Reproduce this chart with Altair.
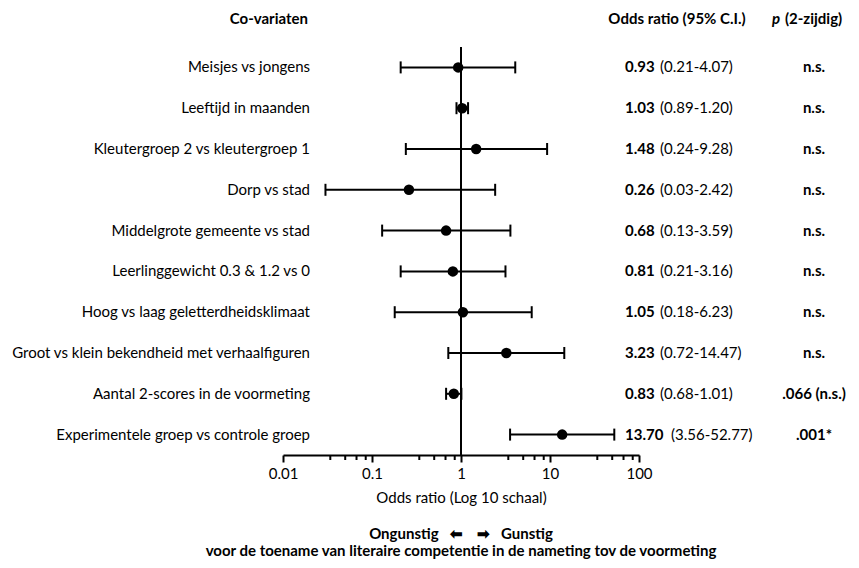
import altair as alt
import pandas as pd

covariates = [
    "Meisjes vs jongens",
    "Leeftijd in maanden",
    "Kleutergroep 2 vs kleutergroep 1",
    "Dorp vs stad",
    "Middelgrote gemeente vs stad",
    "Leerlinggewicht 0.3 & 1.2 vs 0",
    "Hoog vs laag geletterdheidsklimaat",
    "Groot vs klein bekendheid met verhaalfiguren",
    "Aantal 2-scores in de voormeting",
    "Experimentele groep vs controle groep",
]
odds = [0.93, 1.03, 1.48, 0.26, 0.68, 0.81, 1.05, 3.23, 0.83, 13.70]
ci_low = [0.21, 0.89, 0.24, 0.03, 0.13, 0.21, 0.18, 0.72, 0.68, 3.56]
ci_high = [4.07, 1.20, 9.28, 2.42, 3.59, 3.16, 6.23, 14.47, 1.01, 52.77]
p_labels = ["n.s.", "n.s.", "n.s.", "n.s.", "n.s.", "n.s.", "n.s.", "n.s.", ".066 (n.s.)", ".001*"]

major_ticks = [0.01, 0.1, 1, 10, 100]
minor_ticks = [0.034, 0.05, 0.067, 0.085, 0.34, 0.5, 0.67, 0.85,
               3.4, 5, 6.7, 8.5, 34, 50, 67, 85]

F = "Lato, sans-serif"
FS = 15
NB = "\u00a0"

df = pd.DataFrame({
    "row": list(range(len(covariates))),
    "name": covariates,
    "or": odds,
    "lo": ci_low,
    "hi": ci_high,
    "or_txt": [f"{v:.2f}" for v in odds],
    "ci_txt": [f"({a:.2f}-{b:.2f})" for a, b in zip(ci_low, ci_high)],
    "p": p_labels,
})
minor_df = pd.DataFrame({"m": minor_ticks})

xs = alt.Scale(type="log", domain=[0.01, 100], nice=False)
y = alt.Y("row:Q", scale=alt.Scale(domain=[-0.5, 9.5], reverse=True), axis=None)

main_axis = alt.Axis(
    values=major_ticks, format="~g", orient="bottom",
    title="Odds ratio (Log 10 schaal)", grid=False,
    tickSize=7, tickWidth=2, tickColor="black",
    domainWidth=2, domainColor="black",
    labelColor="black", labelFont=F, labelFontSize=FS, labelPadding=4, labelFlush=False,
    titleFont=F, titleFontSize=FS, titleFontWeight="normal", titleColor="black", titlePadding=9,
)


def X(field):
    return alt.X(field, scale=xs, axis=main_axis)


base = alt.Chart(df)

ci_line = base.mark_rule(strokeWidth=2, color="black").encode(x=X("lo:Q"), x2="hi:Q", y=y)
cap_lo = base.mark_tick(orient="vertical", thickness=2, size=12, color="black", opacity=1).encode(
    x=X("lo:Q"), y=y)
cap_hi = base.mark_tick(orient="vertical", thickness=2, size=12, color="black", opacity=1).encode(
    x=X("hi:Q"), y=y)
points = base.mark_circle(size=110, color="black", opacity=1).encode(x=X("or:Q"), y=y)

ref = alt.Chart(pd.DataFrame({"v": [1]})).mark_rule(strokeWidth=2, color="black").encode(x=X("v:Q"))

minor = alt.Chart(minor_df).mark_rule(strokeWidth=2, color="black").encode(
    x=X("m:Q"), y=alt.value(408), y2=alt.value(413))

labels = base.mark_text(align="right", baseline="middle", font=F, fontSize=FS, color="black").encode(
    x=alt.value(27), y=y, text="name:N")
or_short = base.transform_filter("length(datum.or_txt) <= 4")
or_long = base.transform_filter("length(datum.or_txt) > 4")
or_txt = base.mark_text(align="left", baseline="middle", font=F, fontSize=FS, fontWeight="bold",
                        color="black").encode(x=alt.value(342), y=y, text="or_txt:N")
ci_txt_s = or_short.mark_text(align="left", baseline="middle", font=F, fontSize=FS, color="black").encode(
    x=alt.value(377), y=y, text="ci_txt:N")
ci_txt_l = or_long.mark_text(align="left", baseline="middle", font=F, fontSize=FS, color="black").encode(
    x=alt.value(388), y=y, text="ci_txt:N")
p_txt = base.mark_text(align="center", baseline="middle", font=F, fontSize=FS, fontWeight="bold",
                       color="black").encode(x=alt.value(531), y=y, text="p:N")


def header(txt, xpos, align, style="normal"):
    return alt.Chart(pd.DataFrame({"t": [txt]})).mark_text(
        align=align, baseline="middle", font=F, fontSize=FS, fontWeight="bold",
        fontStyle=style, color="black").encode(x=alt.value(xpos), y=alt.value(-28), text="t:N")


h1 = header("Co-variaten", 25, "right")
h2 = header("Odds ratio (95% C.I.)", 394, "center")
h3 = header("p", 489, "left", "italic")
h4 = header("(2-zijdig)", 502, "left")

title_line1 = "Ongunstig" + NB * 3 + "\u2b05" + NB * 4 + "\u27a1" + NB * 3 + "Gunstig"
title_line2 = "voor de toename van literaire competentie in de nameting tov de voormeting"

chart = alt.layer(
    ci_line, ref, minor, cap_lo, cap_hi, points, labels, or_txt, ci_txt_s, ci_txt_l, p_txt, h1, h2, h3, h4
).properties(
    width=356, height=408,
    autosize="none",
    padding={"left": 275, "top": 39, "right": 212, "bottom": 105},
    title=alt.TitleParams(
        text=[title_line1, title_line2],
        orient="bottom", anchor="middle", font=F, fontSize=FS, fontWeight="bold",
        color="black", lineHeight=17, offset=22,
    ),
).configure_view(strokeWidth=0)

chart.save("out.html", embed_options={"renderer": "svg", "actions": False})
